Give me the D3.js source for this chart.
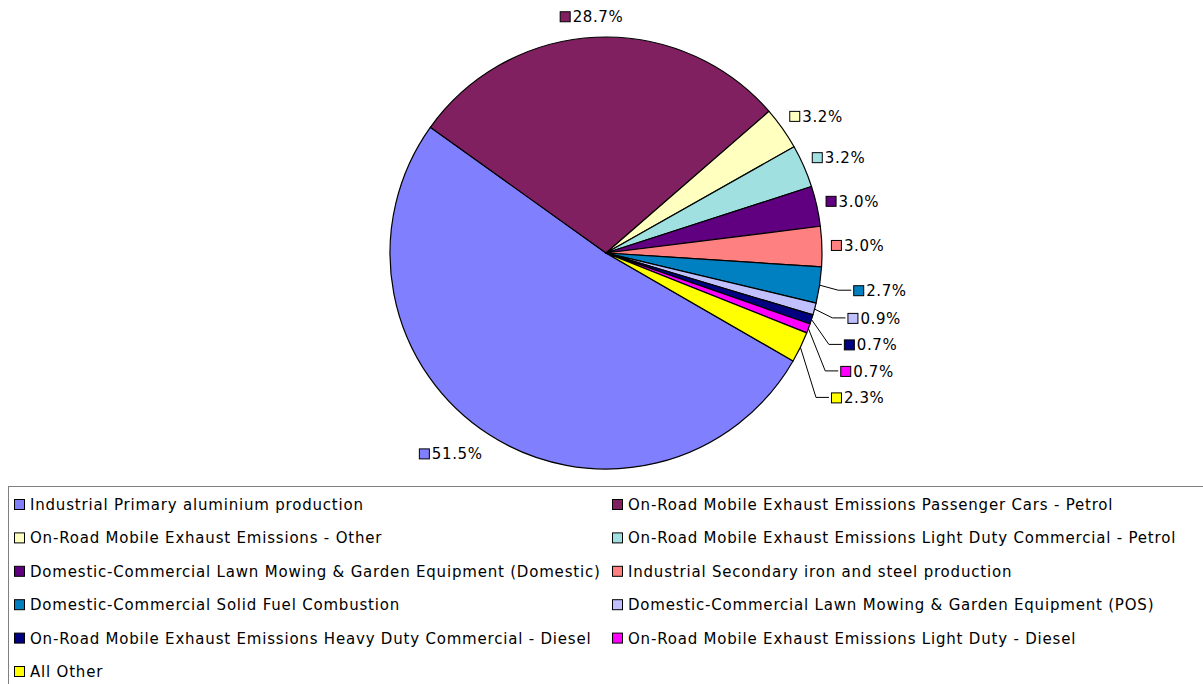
<!DOCTYPE html>
<html><head><meta charset="utf-8">
<script src="https://cdn.jsdelivr.net/npm/d3@7"></script>
<style>body{margin:0;background:#fff}svg{display:block}text{font-family:"DejaVu Sans",Verdana,sans-serif}</style>
</head><body><svg id="c" width="1203" height="684"></svg>
<script>
const categories = [
  "Industrial Primary aluminium production",
  "On-Road Mobile Exhaust Emissions Passenger Cars - Petrol",
  "On-Road Mobile Exhaust Emissions - Other",
  "On-Road Mobile Exhaust Emissions Light Duty Commercial - Petrol",
  "Domestic-Commercial Lawn Mowing & Garden Equipment (Domestic)",
  "Industrial Secondary iron and steel production",
  "Domestic-Commercial Solid Fuel Combustion",
  "Domestic-Commercial Lawn Mowing & Garden Equipment (POS)",
  "On-Road Mobile Exhaust Emissions Heavy Duty Commercial - Diesel",
  "On-Road Mobile Exhaust Emissions Light Duty - Diesel",
  "All Other"
];
const values = [51.5, 28.7, 3.2, 3.2, 3.0, 3.0, 2.7, 0.9, 0.7, 0.7, 2.3];
const labels = ["51.5%","28.7%","3.2%","3.2%","3.0%","3.0%","2.7%","0.9%","0.7%","0.7%","2.3%"];
const colors = ["#8080FF","#802060","#FFFFC0","#A0E0E0","#600080","#FF8080","#0080C0","#C0C0FF","#000080","#FF00FF","#FFFF00"];

const svg = d3.select("#c");
const cx = 606, cy = 253, R = 216;
const deg = Math.PI/180;
const start = 120*deg;
const pie = d3.pie().sort(null).value(d=>d).startAngle(start).endAngle(start+2*Math.PI);
const arcs = pie(values);
const arc = d3.arc().innerRadius(0).outerRadius(R);
const g = svg.append("g").attr("transform",`translate(${cx},${cy})`);
g.selectAll("path").data(arcs).join("path")
  .attr("d",arc).attr("fill",(d,i)=>colors[i])
  .attr("stroke","#000").attr("stroke-width",1.2).attr("stroke-linejoin","round");

// labels
const fs = 15, boxH = 16, sp = 26.5, lsLab = 0.6, lsLeg = 0.8;
const total = d3.sum(values);
const lab = arcs.map((d,i)=>({i, a:(d.startAngle+d.endAngle)/2, text:labels[i], small: values[i]/total < 0.029}));
const tmp = svg.append("text").attr("font-size",fs).attr("letter-spacing",lsLab);
lab.forEach(l=>{ tmp.text(l.text); l.w = 13 + tmp.node().getComputedTextLength(); });
tmp.remove();
lab.forEach(l=>{
  if (l.small){
    const r2 = 250;
    l.left = r2*Math.sin(l.a); l.cy = -r2*Math.cos(l.a); l.leader = true;
  } else {
    const r = 228;
    const px = r*Math.sin(l.a), py = -r*Math.cos(l.a);
    const s = Math.max(-1,Math.min(1,Math.sin(l.a)*2.5));
    const c = Math.cos(l.a);
    l.left = px + s*l.w/2 - l.w/2 - (s>0?3:0);
    l.cy = py - c*boxH/2 + (c<0?2:-1);
  }
});
// stack leader labels downward
const right = lab.filter(l=>l.leader).sort((a,b)=>a.a-b.a);
for (let k=1;k<right.length;k++){
  if (right[k].cy < right[k-1].cy + sp) right[k].cy = right[k-1].cy + sp;
}

const lg = g.append("g");
lab.forEach(l=>{
  if (l.leader){
    const ex = R*Math.sin(l.a), ey = -R*Math.cos(l.a);
    lg.append("polyline").attr("points",`${ex},${ey} ${l.left-15},${l.cy} ${l.left-2},${l.cy}`)
      .attr("fill","none").attr("stroke","#000").attr("stroke-width",1);
  }
  lg.append("rect").attr("x",l.left+0.5).attr("y",l.cy-4.5).attr("width",10).attr("height",10)
    .attr("fill",colors[l.i]).attr("stroke","#000").attr("stroke-width",1);
  lg.append("text").attr("x",l.left+13).attr("y",l.cy).attr("dy","0.4em")
    .attr("font-size",fs).attr("letter-spacing",lsLab).attr("fill","#000").text(l.text);
});

// legend
svg.append("rect").attr("x",8.5).attr("y",486.5).attr("width",1210).attr("height",220)
  .attr("fill","none").attr("stroke","#808080").attr("stroke-width",1);
const colX = [14, 612], rowY0 = 504, rowH = 33.4;
const leg = svg.append("g");
categories.forEach((c,i)=>{
  const x = colX[i%2], y = rowY0 + Math.floor(i/2)*rowH;
  leg.append("rect").attr("x",x+0.5).attr("y",y-4.5).attr("width",10).attr("height",10)
    .attr("fill",colors[i]).attr("stroke","#000").attr("stroke-width",1);
  leg.append("text").attr("x",x+16).attr("y",y).attr("dy","0.4em").attr("font-size",fs)
    .attr("letter-spacing",lsLeg).attr("fill","#000").text(c);
});
</script></body></html>
